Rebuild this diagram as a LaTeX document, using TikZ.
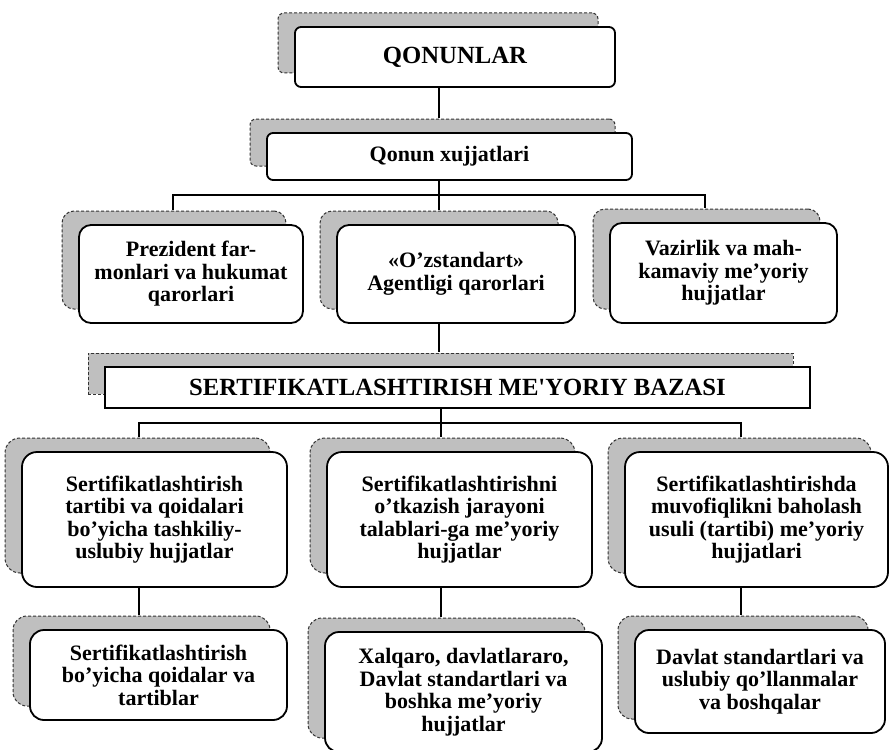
\documentclass[tikz,border=0pt]{standalone}
\usepackage{fontspec}
\setmainfont{Liberation Serif}
\usetikzlibrary{shadows}
\newcommand{\bxfont}{\bfseries\fontsize{22}{22.5}\selectfont}
\newcommand{\hdfont}{\bfseries\fontsize{24.7}{26}\selectfont}
\tikzset{
  box/.style={draw=black, line width=1.8pt, fill=white, rounded corners=12pt,
    align=center, inner sep=0pt, font=\bxfont,
    general shadow={fill=black!25, draw=black!80, line width=1pt, densely dashed,
      shadow xshift=-17pt, shadow yshift=14pt}},
  conn/.style={draw=black, line width=1.8pt},
}
\begin{document}
\begin{tikzpicture}[x=1pt,y=-1pt]
\useasboundingbox (0,0) rectangle (890,749);
\clip (0,0) rectangle (890,749);
% boxes
\node[box, rounded corners=6pt, font=\hdfont, minimum width=320pt, minimum height=60pt] (q) at (455,57) {QONUNLAR};
\node[box, rounded corners=6pt, minimum width=365pt, minimum height=47pt] (qx) at (449.5,156.5) {Qonun xujjatlari};
\node[box, minimum width=224pt, minimum height=98pt] (r2l) at (191,274) {Prezident far-\\monlari va hukumat\\qarorlari};
\node[box, minimum width=238pt, minimum height=98pt] (r2m) at (456,274) {«O’zstandart»\\Agentligi qarorlari};
\node[box, minimum width=227pt, minimum height=100pt] (r2r) at (723.5,273) {Vazirlik va mah-\\kamaviy me’yoriy\\hujjatlar};
\node[box, rounded corners=0pt, font=\hdfont, minimum width=705pt, minimum height=41pt] (sert) at (457.5,387.5) {SERTIFIKATLASHTIRISH ME\textquotesingle YORIY BAZASI};
\node[box, rounded corners=15pt, minimum width=265pt, minimum height=135pt] (r3l) at (154.5,519.5) {Sertifikatlashtirish\\tartibi va qoidalari\\bo’yicha tashkiliy-\\uslubiy hujjatlar};
\node[box, rounded corners=15pt, minimum width=265pt, minimum height=135pt] (r3m) at (459.5,519.5) {Sertifikatlashtirishni\\o’tkazish jarayoni\\talablari-ga me’yoriy\\hujjatlar};
\node[box, rounded corners=15pt, minimum width=263pt, minimum height=135pt] (r3r) at (756.5,519.5) {Sertifikatlashtirishda\\muvofiqlikni baholash\\usuli (tartibi) me’yoriy\\hujjatlari};
\node[box, rounded corners=14pt, minimum width=257pt, minimum height=90pt] (r4l) at (158.5,675) {Sertifikatlashtirish\\bo’yicha qoidalar va\\tartiblar};
\node[box, rounded corners=14pt, minimum width=277pt, minimum height=120pt] (r4m) at (463.5,692) {Xalqaro, davlatlararo,\\Davlat standartlari va\\boshka me’yoriy\\hujjatlar};
\node[box, rounded corners=14pt, minimum width=250pt, minimum height=103pt] (r4r) at (760,681.5) {Davlat standartlari va\\uslubiy qo’llanmalar\\va boshqalar};
% helper coordinates
\coordinate (v1) at (439,0);
\coordinate (v2l) at (173,0);
\coordinate (v2r) at (705,0);
\coordinate (v3l) at (139,0);
\coordinate (v3m) at (441,0);
\coordinate (v3r) at (741,0);
\coordinate (b2) at (0,195);
\coordinate (b3) at (0,423);
\path ([yshift=14pt]qx.north) coordinate (qxt);
\path ([yshift=14pt]r2l.north) coordinate (r2lt);
\path ([yshift=14pt]r2m.north) coordinate (r2mt);
\path ([yshift=14pt]r2r.north) coordinate (r2rt);
\path ([yshift=14pt]sert.north) coordinate (sertt);
\path ([yshift=14pt]r3l.north) coordinate (r3lt);
\path ([yshift=14pt]r3m.north) coordinate (r3mt);
\path ([yshift=14pt]r3r.north) coordinate (r3rt);
\path ([yshift=14pt]r4l.north) coordinate (r4lt);
\path ([yshift=14pt]r4m.north) coordinate (r4mt);
\path ([yshift=14pt]r4r.north) coordinate (r4rt);
% connectors
\draw[conn] (q.south -| v1) -- (qxt -| v1);
\draw[conn] (qx.south -| v1) -- (b2 -| v1) -- (r2mt -| v1);
\draw[conn] (r2lt -| v2l) -- (b2 -| v2l) -- (b2 -| v2r) -- (r2rt -| v2r);
\draw[conn] (r2m.south -| v1) -- (sertt -| v1);
\draw[conn] (sert.south -| v3m) -- (b3 -| v3m) -- (r3mt -| v3m);
\draw[conn] (r3lt -| v3l) -- (b3 -| v3l) -- (b3 -| v3r) -- (r3rt -| v3r);
\draw[conn] (r3l.south -| v3l) -- (r4lt -| v3l);
\draw[conn] (r3m.south -| v3m) -- (r4mt -| v3m);
\draw[conn] (r3r.south -| v3r) -- (r4rt -| v3r);
\end{tikzpicture}
\end{document}
